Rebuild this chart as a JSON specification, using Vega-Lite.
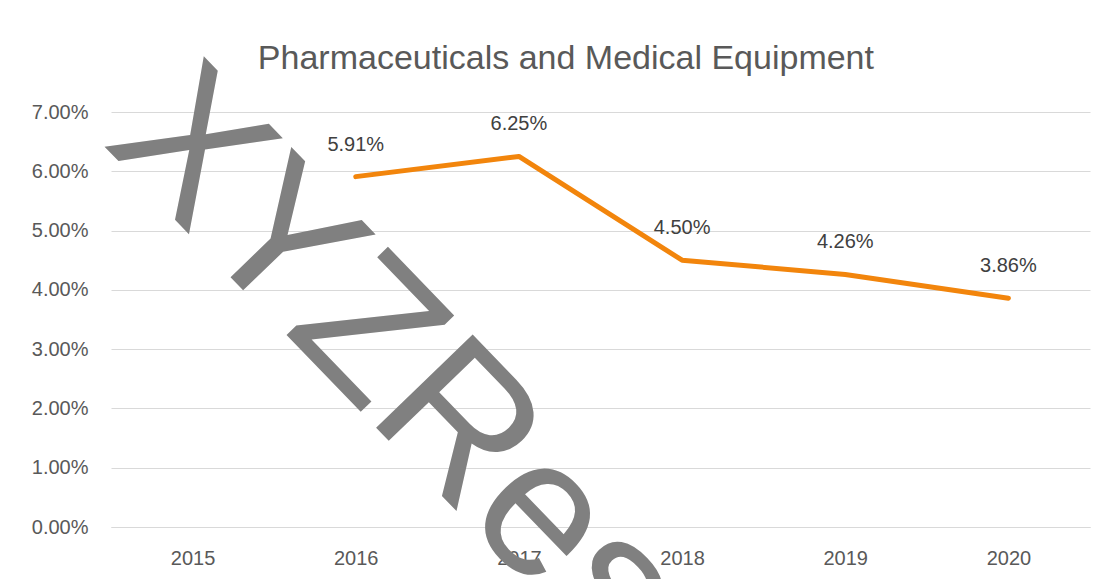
{
  "$schema": "https://vega.github.io/schema/vega-lite/v6.json",
  "width": 979,
  "height": 415,
  "autosize": {"type": "none"},
  "padding": {"left": 111, "top": 112, "right": 15, "bottom": 52},
  "background": "white",
  "datasets": {
    "rates": [
      {"year": "2015", "value": null},
      {"year": "2016", "value": 0.0591},
      {"year": "2017", "value": 0.0625},
      {"year": "2018", "value": 0.045},
      {"year": "2019", "value": 0.0426},
      {"year": "2020", "value": 0.0386}
    ],
    "heading": [
      {"label": "Pharmaceuticals and Medical Equipment"}
    ],
    "watermark": [
      {"label": "XYZRes"}
    ]
  },
  "layer": [
    {
      "data": {"name": "rates"},
      "transform": [{"filter": "datum.value != null"}],
      "mark": {"type": "line", "color": "#F2850C", "strokeWidth": 5, "strokeCap": "round", "strokeJoin": "round"},
      "encoding": {
        "x": {
          "field": "year",
          "type": "ordinal",
          "scale": {"type": "point", "padding": 0.5, "domain": ["2015", "2016", "2017", "2018", "2019", "2020"]},
          "axis": {
            "title": null,
            "labelAngle": 0,
            "labelPadding": 21,
            "labelFont": "Liberation Sans",
            "labelFontSize": 20,
            "labelColor": "#595959",
            "ticks": false,
            "domain": true,
            "domainColor": "#d9d9d9",
            "domainWidth": 1,
            "grid": false
          }
        },
        "y": {
          "field": "value",
          "type": "quantitative",
          "scale": {"domain": [0, 0.07], "nice": false},
          "axis": {
            "title": null,
            "format": ".2%",
            "values": [0, 0.01, 0.02, 0.03, 0.04, 0.05, 0.06, 0.07],
            "labelPadding": 23,
            "labelFont": "Liberation Sans",
            "labelFontSize": 20,
            "labelColor": "#595959",
            "ticks": false,
            "domain": false,
            "grid": true,
            "gridColor": "#d9d9d9",
            "gridWidth": 1
          }
        }
      }
    },
    {
      "data": {"name": "rates"},
      "transform": [{"filter": "datum.value != null"}],
      "mark": {"type": "text", "dy": -32, "font": "Liberation Sans", "fontSize": 20, "fill": "#404040", "baseline": "middle"},
      "encoding": {
        "x": {"field": "year", "type": "ordinal"},
        "y": {"field": "value", "type": "quantitative"},
        "text": {"field": "value", "type": "quantitative", "format": ".2%"}
      }
    },
    {
      "data": {"name": "heading"},
      "mark": {"type": "text", "font": "Liberation Sans", "fontSize": 34, "fill": "#595959", "align": "center", "baseline": "alphabetic", "dx": 47},
      "encoding": {
        "x": {"datum": "2017", "type": "ordinal"},
        "y": {"datum": 0.0772, "type": "quantitative"},
        "text": {"field": "label", "type": "nominal"}
      }
    },
    {
      "data": {"name": "watermark"},
      "mark": {"type": "text", "angle": 46, "font": "Liberation Sans", "fontSize": 195, "fill": "#808080", "align": "center", "baseline": "middle", "dx": 58},
      "encoding": {
        "x": {"datum": "2016", "type": "ordinal"},
        "y": {"datum": 0.0346, "type": "quantitative"},
        "text": {"field": "label", "type": "nominal"}
      }
    }
  ],
  "config": {"view": {"stroke": null}}
}
